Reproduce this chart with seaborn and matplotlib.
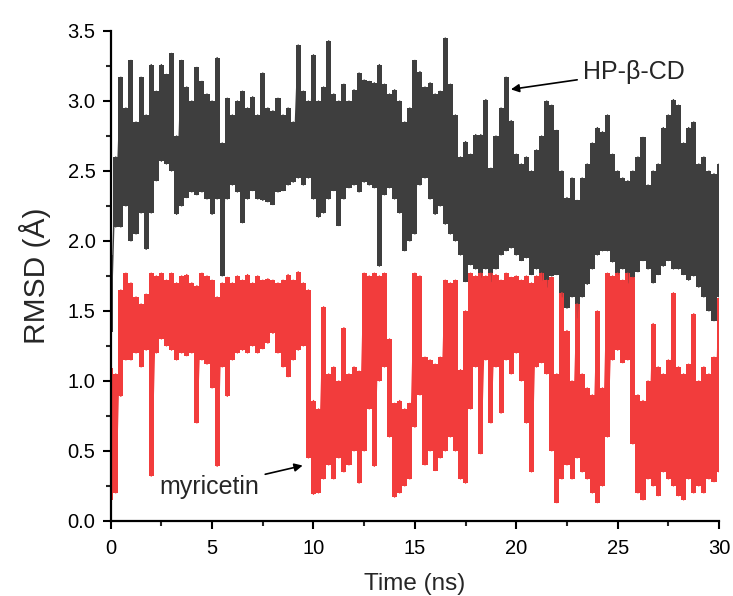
import numpy as np
import pandas as pd
import seaborn as sns
import matplotlib.pyplot as plt
from matplotlib.ticker import MultipleLocator

# envelope values, one pair every 0.25 ns (0 .. 30 ns)
cd_hi = [1.90, 2.60, 3.17, 2.95, 3.29, 2.85, 3.17, 2.90, 3.26, 3.07, 3.26, 3.19, 3.34, 2.75, 3.29, 3.10,
         3.00, 3.24, 3.14, 3.05, 3.00, 3.31, 2.70, 3.02, 2.90, 3.00, 3.07, 2.95, 3.03, 2.90, 3.20, 2.95,
         2.93, 3.02, 2.90, 2.95, 2.85, 3.40, 3.07, 3.00, 3.33, 3.00, 3.10, 3.43, 3.05, 3.00, 3.12, 3.00,
         3.08, 3.20, 3.15, 3.14, 3.13, 3.26, 3.12, 3.05, 3.08, 3.00, 2.85, 2.95, 3.29, 3.21, 3.10, 3.13,
         3.05, 3.07, 3.45, 3.12, 2.90, 2.60, 2.71, 2.62, 2.76, 2.76, 3.01, 2.52, 2.75, 2.95, 3.17, 2.86,
         2.62, 2.55, 2.60, 2.50, 2.65, 2.75, 3.00, 2.97, 2.79, 2.50, 2.31, 2.45, 2.29, 2.45, 2.55, 2.70,
         2.81, 2.78, 2.90, 2.62, 2.50, 2.45, 2.43, 2.50, 2.60, 2.74, 2.40, 2.50, 2.55, 2.81, 2.90, 3.01,
         2.97, 2.70, 2.81, 2.85, 2.55, 2.60, 2.50, 2.48, 2.55]
cd_lo = [1.35, 2.10, 2.10, 2.25, 2.00, 2.05, 2.20, 1.94, 2.20, 2.43, 2.57, 2.55, 2.50, 2.19, 2.25, 2.31,
         2.35, 2.33, 2.35, 2.30, 2.19, 2.30, 1.75, 2.30, 2.40, 2.35, 2.13, 2.30, 2.36, 2.30, 2.29, 2.28,
         2.26, 2.35, 2.36, 2.40, 2.42, 2.45, 2.40, 2.45, 2.30, 2.17, 2.20, 2.30, 2.36, 2.11, 2.30, 2.38,
         2.40, 2.35, 2.42, 2.40, 2.38, 1.82, 2.33, 2.38, 2.30, 2.20, 1.93, 2.00, 2.05, 2.40, 2.45, 2.30,
         2.19, 2.25, 2.12, 2.05, 2.00, 1.90, 1.71, 1.83, 1.80, 1.74, 1.80, 1.71, 1.80, 1.90, 1.93, 1.95,
         1.90, 1.86, 1.88, 1.76, 1.80, 1.72, 1.67, 1.75, 1.76, 1.60, 1.52, 1.60, 1.45, 1.60, 1.69, 1.80,
         1.90, 1.93, 1.93, 1.85, 1.76, 1.80, 1.70, 1.74, 1.78, 1.86, 1.80, 1.70, 1.76, 1.82, 1.86, 1.80,
         1.80, 1.76, 1.72, 1.75, 1.67, 1.60, 1.50, 1.43, 1.60]
myr_hi = [1.09, 1.05, 1.65, 1.77, 1.70, 1.60, 1.55, 1.62, 1.77, 1.75, 1.77, 1.72, 1.77, 1.70, 1.75, 1.76,
          1.70, 1.68, 1.77, 1.75, 1.72, 1.60, 1.70, 1.74, 1.70, 1.75, 1.72, 1.76, 1.70, 1.75, 1.72, 1.73,
          1.72, 1.70, 1.72, 1.76, 1.72, 1.78, 1.70, 1.65, 0.86, 0.80, 1.53, 1.05, 1.10, 1.00, 1.38, 1.05,
          1.10, 1.07, 1.77, 1.75, 1.77, 1.75, 1.77, 1.30, 0.84, 0.86, 0.80, 0.84, 1.77, 1.75, 1.17, 1.15,
          1.12, 1.17, 1.72, 1.70, 1.72, 1.08, 1.50, 1.77, 1.75, 1.77, 1.75, 1.77, 1.76, 1.72, 1.77, 1.74,
          1.75, 1.72, 1.75, 1.70, 1.75, 1.77, 1.72, 1.74, 1.05, 1.63, 1.36, 1.00, 1.55, 1.05, 0.95, 0.90,
          1.50, 0.95, 1.77, 1.75, 1.77, 1.72, 1.77, 1.74, 0.90, 0.86, 1.00, 1.41, 1.10, 1.05, 1.15, 1.63,
          1.10, 1.05, 1.12, 1.48, 1.00, 1.10, 1.05, 1.17, 1.59]
myr_lo = [0.15, 0.20, 0.89, 1.15, 1.15, 1.20, 1.10, 1.22, 0.32, 1.20, 1.30, 1.25, 1.22, 1.15, 1.20, 1.18,
          1.20, 0.70, 1.15, 1.12, 0.95, 0.39, 1.10, 0.89, 1.15, 1.20, 1.22, 1.20, 1.25, 1.20, 1.23, 1.27,
          1.34, 1.20, 1.10, 1.03, 1.15, 1.22, 1.25, 0.45, 0.19, 0.20, 0.30, 0.40, 0.30, 0.45, 0.35, 0.40,
          0.50, 0.27, 0.50, 0.80, 0.39, 1.00, 1.10, 0.60, 0.17, 0.20, 0.25, 0.30, 0.67, 0.90, 0.40, 0.50,
          0.36, 0.45, 0.50, 0.60, 0.50, 0.30, 0.27, 0.80, 1.10, 0.48, 1.15, 0.70, 1.10, 0.77, 1.15, 1.05,
          1.20, 1.00, 0.70, 0.35, 1.10, 1.13, 1.05, 0.50, 0.13, 0.30, 0.40, 0.30, 0.45, 0.35, 0.30, 0.20,
          0.13, 0.25, 0.60, 1.15, 1.22, 1.13, 1.15, 0.55, 0.20, 0.15, 0.30, 0.25, 0.18, 0.35, 0.30, 0.25,
          0.18, 0.15, 0.30, 0.20, 0.25, 0.20, 0.30, 0.28, 0.35]

steps = np.linspace(0, 30, len(cd_hi))
colors = {'HP-β-CD': '#3e3e3e', 'myricetin': '#f23c3c'}

def trace(name, hi, lo):
    # min/max style trace: a vertical stroke lo->hi at each time step
    return pd.DataFrame({'Time': np.repeat(steps, 2),
                         'RMSD': np.column_stack([hi, lo]).ravel(),
                         'mol': name})

df = pd.concat([trace('HP-β-CD', cd_hi, cd_lo), trace('myricetin', myr_hi, myr_lo)])

sns.set_style("ticks")
plt.rcParams['font.family'] = ['Liberation Sans', 'DejaVu Sans']

fig = plt.figure(figsize=(7.33, 5.96), dpi=100)
ax = fig.add_axes([0.151, 0.126, 0.830, 0.822])
# dense body of each trace: min..max band per time step
ax.fill_between(steps, cd_lo, cd_hi, step='mid', color=colors['HP-β-CD'], lw=0)
ax.fill_between(steps, myr_lo, myr_hi, step='mid', color=colors['myricetin'], lw=0)
sns.lineplot(data=df, x='Time', y='RMSD', hue='mol', estimator=None, sort=False,
             palette=colors, linewidth=1.0, legend=False, ax=ax)

ax.set_xlim(0, 30)
ax.set_ylim(0, 3.5)
ax.xaxis.set_major_locator(MultipleLocator(5))
ax.xaxis.set_minor_locator(MultipleLocator(2.5))
ax.set_yticks(np.arange(0, 3.51, 0.5))
ax.set_yticklabels([f'{v:.1f}' for v in np.arange(0, 3.51, 0.5)])
ax.yaxis.set_minor_locator(MultipleLocator(0.25))
ax.tick_params(which='major', direction='out', length=6, width=1.5, labelsize=14.5,
               colors='black', pad=5)
ax.tick_params(axis='x', which='major', pad=7)
ax.tick_params(which='minor', direction='out', length=3.5, width=1.5)
for s in ['left', 'bottom']:
    ax.spines[s].set_linewidth(1.6)
    ax.spines[s].set_color('black')
sns.despine(ax=ax)
ax.set_xlabel('Time (ns)', fontsize=17.5, labelpad=11)
ax.set_ylabel('RMSD (Å)', fontsize=21.5, labelpad=12)

ax.annotate('HP-β-CD', xy=(19.6, 3.08), xytext=(23.3, 3.21), fontsize=18,
            va='center', ha='left',
            arrowprops=dict(arrowstyle='-|>', color='black', lw=1.2, mutation_scale=12))
ax.annotate('myricetin', xy=(9.6, 0.40), xytext=(2.4, 0.24), fontsize=18,
            va='center', ha='left',
            arrowprops=dict(arrowstyle='-|>', color='black', lw=1.2, mutation_scale=12))

fig.savefig('out.png', dpi=100)
